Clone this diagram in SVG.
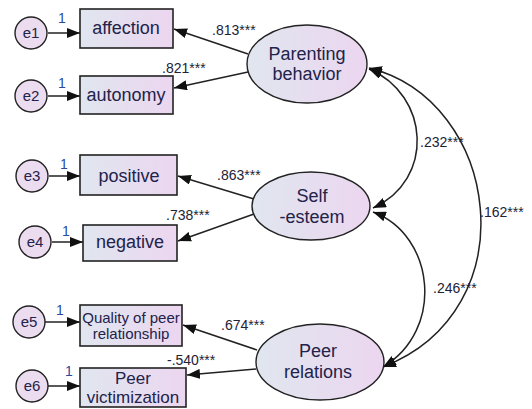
<svg xmlns="http://www.w3.org/2000/svg" width="532" height="409" viewBox="0 0 532 409">
<defs>
<linearGradient id="g" x1="0" y1="0" x2="1" y2="0">
<stop offset="0" stop-color="#e0e6ef"/>
<stop offset="1" stop-color="#ecd6f0"/>
</linearGradient>
<marker id="ah" viewBox="0 0 13 10" refX="13" refY="5" markerWidth="13" markerHeight="10" markerUnits="userSpaceOnUse" orient="auto-start-reverse">
<path d="M0,0 L13,5 L0,10 z" fill="#111"/>
</marker>
<style>
.box{fill:url(#g);stroke:#222;stroke-width:1.6}
.lat{fill:url(#g);stroke:#222;stroke-width:1.4}
.err{fill:#ecdcf0;stroke:#222;stroke-width:1.4}
.t{font-family:"Liberation Sans",Arial,sans-serif;font-size:18px;fill:#22224a;text-anchor:middle}
.tv{font-family:"Liberation Sans",Arial,sans-serif;font-size:17px;fill:#22224a;text-anchor:middle}
.ts{font-family:"Liberation Sans",Arial,sans-serif;font-size:15px;fill:#22224a;text-anchor:middle}
.te{font-family:"Liberation Sans",Arial,sans-serif;font-size:15px;fill:#22224a;text-anchor:middle}
.lb{font-family:"Liberation Sans",Arial,sans-serif;font-size:14px;fill:#222236}
.one{font-family:"Liberation Sans",Arial,sans-serif;font-size:14px;fill:#2a4aa0}
.ln{fill:none;stroke:#222;stroke-width:1.5;marker-end:url(#ah)}
.cv{fill:none;stroke:#222;stroke-width:1.5;marker-start:url(#ah);marker-end:url(#ah)}
</style>
</defs>

<g id="connectors">
<path class="ln" d="M48,33 L80,33"/>
<path class="ln" d="M48,96 L80,96"/>
<path class="ln" d="M49,176 L80,176"/>
<path class="ln" d="M52,242 L83,242"/>
<path class="ln" d="M45,322 L80,322"/>
<path class="ln" d="M48,386 L80,386"/>
<path class="ln" d="M248,54 L174,29"/>
<path class="ln" d="M248,72 L174,88"/>
<path class="ln" d="M254,199 L178,176"/>
<path class="ln" d="M254,214 L178,241"/>
<path class="ln" d="M257,350 L183,325"/>
<path class="ln" d="M256,369 L187,375"/>
<path class="cv" d="M369,69 C430,95 435,180 373,208"/>
<path class="cv" d="M373,212 C435,235 445,330 383,367"/>
<path class="cv" d="M369,68 C500,100 530,310 383,367"/>
<text class="one" x="58" y="23">1</text>
<text class="one" x="58" y="88">1</text>
<text class="one" x="60" y="169">1</text>
<text class="one" x="62" y="236">1</text>
<text class="one" x="56" y="315">1</text>
<text class="one" x="65" y="376">1</text>
<text class="lb" x="212" y="35">.813***</text>
<text class="lb" x="162" y="73">.821***</text>
<text class="lb" x="217" y="180">.863***</text>
<text class="lb" x="166" y="220">.738***</text>
<text class="lb" x="221" y="330">.674***</text>
<text class="lb" x="167" y="365">-.540***</text>
<text class="lb" x="420" y="147">.232***</text>
<text class="lb" x="480" y="217">.162***</text>
<text class="lb" x="433" y="293">.246***</text>
</g>

<g id="e1"><circle class="err" cx="31" cy="33" r="16"/><text class="te" x="31" y="38">e1</text></g>
<g id="e2"><circle class="err" cx="31" cy="96" r="16"/><text class="te" x="31" y="101">e2</text></g>
<g id="e3"><circle class="err" cx="32" cy="176" r="16"/><text class="te" x="32" y="181">e3</text></g>
<g id="e4"><circle class="err" cx="35" cy="242" r="16"/><text class="te" x="35" y="247">e4</text></g>
<g id="e5"><circle class="err" cx="29" cy="322" r="16"/><text class="te" x="29" y="327">e5</text></g>
<g id="e6"><circle class="err" cx="32" cy="386" r="16"/><text class="te" x="32" y="391">e6</text></g>

<g id="affection"><rect class="box" x="80" y="9" width="93" height="39"/><text class="t" x="126" y="34">affection</text></g>
<g id="autonomy"><rect class="box" x="80" y="76" width="93" height="38"/><text class="t" x="126" y="101">autonomy</text></g>
<g id="positive"><rect class="box" x="80" y="155" width="97" height="40"/><text class="t" x="129" y="182">positive</text></g>
<g id="negative"><rect class="box" x="83" y="225" width="94" height="36"/><text class="t" x="130" y="248">negative</text></g>
<g id="quality"><rect class="box" x="80" y="305" width="102" height="41"/><text class="ts" x="131" y="323">Quality of peer</text><text class="ts" x="131" y="339">relationship</text></g>
<g id="victimization"><rect class="box" x="80" y="368" width="106" height="39"/><text class="tv" x="133" y="384">Peer</text><text class="tv" x="133" y="403">victimization</text></g>

<g id="parenting"><ellipse class="lat" cx="307" cy="64" rx="60" ry="39"/><text class="t" x="307" y="60">Parenting</text><text class="t" x="307" y="80">behavior</text></g>
<g id="selfesteem"><ellipse class="lat" cx="311" cy="206" rx="59" ry="34"/><text class="t" x="312" y="202">Self</text><text class="t" x="312" y="223">-esteem</text></g>
<g id="peer"><ellipse class="lat" cx="320" cy="362" rx="64" ry="38"/><text class="t" x="318" y="357">Peer</text><text class="t" x="318" y="378">relations</text></g>
</svg>
